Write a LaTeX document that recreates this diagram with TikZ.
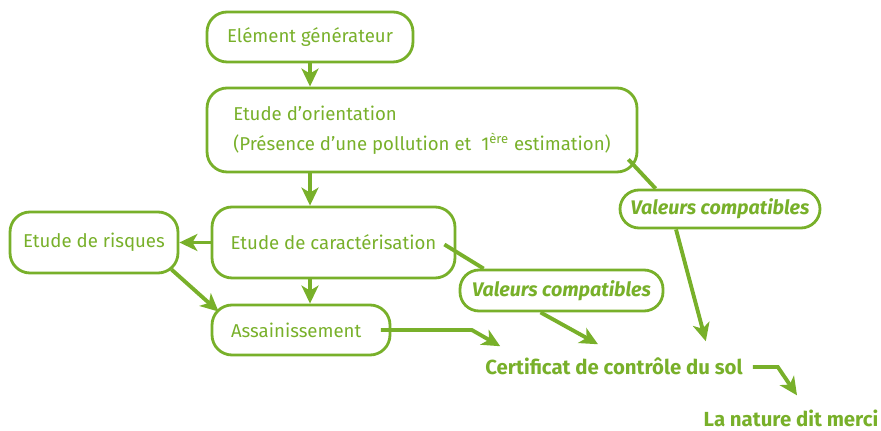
\documentclass[tikz,border=0pt]{standalone}
\usepackage{fontspec}
\setmainfont{Fira Sans}
\usetikzlibrary{arrows.meta, positioning}
\definecolor{vert}{RGB}{120,176,42}

\begin{document}
\begin{tikzpicture}[x=0.02cm, y=-0.02cm, >=Stealth,
  every node/.style={font=\fontsize{10.6}{17}\selectfont, text=vert},
  boite/.style={draw=vert, line width=1.6pt, rounded corners=0.4cm},
  valeur/.style={draw=vert, line width=1.6pt, rounded corners=0.38cm, font=\fontsize{11.2}{14}\selectfont\bfseries\itshape},
  fin/.style={font=\fontsize{11.6}{14}\selectfont\bfseries},
  fleche/.style={draw=vert, line width=2.2pt, -{Stealth[length=0.36cm, width=0.34cm, inset=0.1cm]}},
  trait/.style={draw=vert, line width=2.2pt}]

\useasboundingbox (0,0) rectangle (881,431);

% Boites
\node[boite, minimum width=4.12cm, minimum height=1cm] (gen) at (310,37) {Elément générateur};
\node[boite, minimum width=8.6cm, minimum height=1.68cm, align=left] (orient) at (422,130)
  {Etude d'orientation\\(Présence d'une pollution et\ \ 1\textsuperscript{ère} estimation)};
\node[boite, minimum width=3.36cm, minimum height=1.22cm] (risques) at (94,242.5) {Etude de risques};
\node[boite, minimum width=4.86cm, minimum height=1.42cm] (caract) at (333.5,242.5) {Etude de caractérisation};
\node[boite, minimum width=3.56cm, minimum height=1cm, text width=2.8cm, align=left] (assain) at (301,330) {Assainissement};

% Valeurs compatibles
\node[valeur, minimum width=4cm, minimum height=0.76cm] (valR) at (720,209) {Valeurs compatibles};
\node[valeur, minimum width=4.06cm, minimum height=0.82cm] (valM) at (561.5,290.5) {Valeurs compatibles};

% Resultats
\node[fin] (certif) at (614,366) {Certificat de contrôle du sol};
\node[fin] (nature) at (791,418) {La nature dit merci};

% Fleches verticales
\draw[fleche] (gen.south) -- (gen.south |- orient.north);
\draw[fleche] (gen.south |- orient.south) -- (gen.south |- caract.north);
\draw[fleche] (gen.south |- caract.south) -- (gen.south |- assain.north);

% Risques
\draw[fleche] (caract.west) -- (risques.east);
\draw[fleche] ([shift={(-8,-5)}]risques.south east) -- ([shift={(8,8)}]assain.north west);

% Vers le certificat
\draw[fleche] ([xshift=-6pt]assain.east) -- ++(91,0) -- ([shift={(21,-5)}]certif.north west);
\draw[trait] ([shift={(-12,2)}]caract.east) -- ([shift={(25,0)}]valM.north west);
\draw[fleche] ([shift={(-21,0)}]valM.south) -- ([shift={(-16,-7)}]certif.north);
\draw[trait] ([shift={(-10,-14)}]orient.south east) -- ([shift={(37,0)}]valR.north west);
\draw[fleche] ([shift={(-44,0)}]valR.south) -- ([shift={(-43,-10)}]certif.north east);
\draw[fleche] ([shift={(4,1)}]certif.east) -- ++(25,0) -- ([shift={(6,-8)}]nature.north);

\end{tikzpicture}
\end{document}
